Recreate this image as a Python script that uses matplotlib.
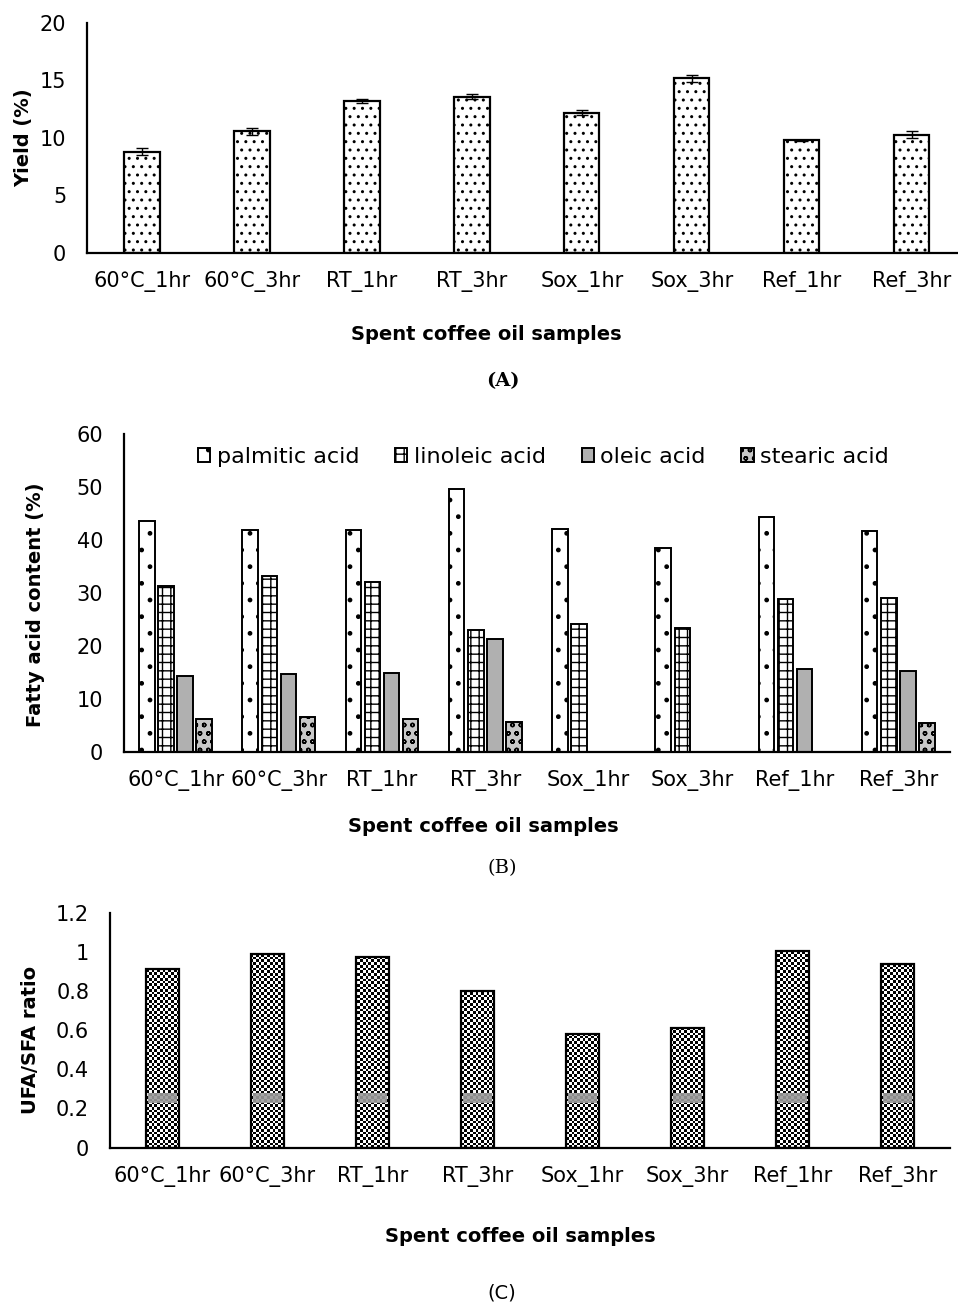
import matplotlib
matplotlib.use("Agg")
import matplotlib.pyplot as plt
import numpy as np

samples = ["60°C_1hr", "60°C_3hr", "RT_1hr", "RT_3hr", "Sox_1hr", "Sox_3hr", "Ref_1hr", "Ref_3hr"]

# (A) oil yield
yield_pct = [8.8, 10.6, 13.2, 13.6, 12.2, 15.2, 9.8, 10.3]
yield_err = [0.3, 0.3, 0.2, 0.2, 0.2, 0.3, 0.05, 0.3]

# (B) fatty acid composition
acids = ["palmitic acid", "linoleic acid", "oleic acid", "stearic acid"]
palmitic = [43.6, 41.8, 41.8, 49.6, 42.1, 38.4, 44.3, 41.7]
linoleic = [31.3, 33.3, 32.1, 23.0, 24.2, 23.4, 28.9, 29.0]
oleic = [14.3, 14.7, 15.0, 21.4, 0, 0, 15.6, 15.3]
stearic = [6.2, 6.7, 6.2, 5.7, 0, 0, 0, 5.4]

# (C) UFA/SFA ratio
ufa_sfa = [0.91, 0.99, 0.975, 0.80, 0.58, 0.61, 1.005, 0.94]

plt.rcParams['font.family'] = ['DejaVu Sans']
plt.rcParams['hatch.linewidth'] = 1.0
fs = 15
H = 1304.0

fig = plt.figure(figsize=(9.58, 13.04), dpi=100)
x = np.arange(len(samples))


def style_axes(ax):
    for s in ['top', 'right']:
        ax.spines[s].set_visible(False)
    for s in ['left', 'bottom']:
        ax.spines[s].set_linewidth(1.6)
        ax.spines[s].set_color('black')
    ax.tick_params(axis='x', length=0, labelsize=fs, pad=13)
    ax.tick_params(axis='y', length=0, labelsize=fs, pad=15)
    ax.set_xticks(x)
    ax.set_xticklabels(samples)


def xlabel_at(xpix, ypix):
    fig.text(xpix / 958, 1 - ypix / H, 'Spent coffee oil samples', fontsize=14,
             fontweight='bold', ha='center', va='center')


# ---- panel A
axA = fig.add_axes([0.0908, 0.806, 0.9092, 0.1764])
axA.bar(x, yield_pct, width=0.32, color='white', edgecolor='black', linewidth=1.6,
        hatch='..', yerr=yield_err, capsize=4, error_kw=dict(elinewidth=1.0, capthick=1.0))
axA.set_xlim(-0.5, 7.42)
axA.set_ylim(0, 20)
axA.set_yticks([0, 5, 10, 15, 20])
style_axes(axA)
axA.set_ylabel('Yield (%)', fontsize=14, fontweight='bold')
axA.yaxis.set_label_coords(-0.062, 0.5)
xlabel_at(486, 335)
fig.text(503 / 958, 1 - 381 / H, '(A)', fontsize=14, fontweight='bold', family='DejaVu Serif',
         ha='center', va='center')

# ---- panel B
axB = fig.add_axes([0.1294, 0.4233, 0.8622, 0.2439])
w = 0.15
step = 0.185
series = [palmitic, linoleic, oleic, stearic]
colors = ['white', 'white', '#b0b0b0', '#c8c8c8']
hatches = ['.', '++', '', 'oo']
for i, (vals, lab) in enumerate(zip(series, acids)):
    axB.bar(x + (i - 1.5) * step, vals, width=w, color=colors[i], edgecolor='black',
            linewidth=1.4, hatch=hatches[i], label=lab)
axB.set_xlim(-0.5, 7.5)
axB.set_ylim(0, 60)
axB.set_yticks(range(0, 61, 10))
style_axes(axB)
axB.set_ylabel('Fatty acid content (%)', fontsize=14, fontweight='bold')
axB.yaxis.set_label_coords(-0.0956, 0.462)
xlabel_at(483, 827)
axB.legend(loc='center', bbox_to_anchor=(0.508, 0.928), ncol=4, frameon=False,
           fontsize=16, handlelength=0.55, handleheight=0.55, handletextpad=0.3,
           columnspacing=1.6, borderaxespad=0)
fig.text(502 / 958, 1 - 868 / H, '(B)', fontsize=14, family='DejaVu Serif',
         ha='center', va='center')

# ---- panel C
axC = fig.add_axes([0.1148, 0.1199, 0.8768, 0.1802])
barsC = axC.bar(x, ufa_sfa, width=0.32, color='white', edgecolor='black', linewidth=1.6,
                zorder=3)
for b in barsC:
    b.set_facecolor('none')
# checkerboard fill clipped to each bar
ny, nx = 86, 306
checker = (np.add.outer(np.arange(ny), np.arange(nx)) % 2).astype(float)
for b in barsC:
    im = axC.imshow(checker, cmap='gray', extent=(-0.5, 7.5, 0, 1.2), aspect='auto',
                    interpolation='nearest', vmin=0, vmax=1, zorder=1)
    im.set_clip_path(b)
axC.bar(x, [0.05] * len(x), bottom=0.23, width=0.27, color='#9a9a9a', linewidth=0,
        alpha=0.9, zorder=2)
axC.set_xlim(-0.5, 7.5)
axC.set_ylim(0, 1.2)
axC.set_yticks([0, 0.2, 0.4, 0.6, 0.8, 1.0, 1.2])
axC.set_yticklabels(['0', '0.2', '0.4', '0.6', '0.8', '1', '1.2'])
style_axes(axC)
axC.set_ylabel('UFA/SFA ratio', fontsize=14, fontweight='bold')
axC.yaxis.set_label_coords(-0.0833, 0.46)
xlabel_at(520, 1236)
fig.text(502 / 958, 1 - 1293 / H, '(C)', fontsize=14, ha='center', va='center')

fig.savefig('out.png', dpi=100)
